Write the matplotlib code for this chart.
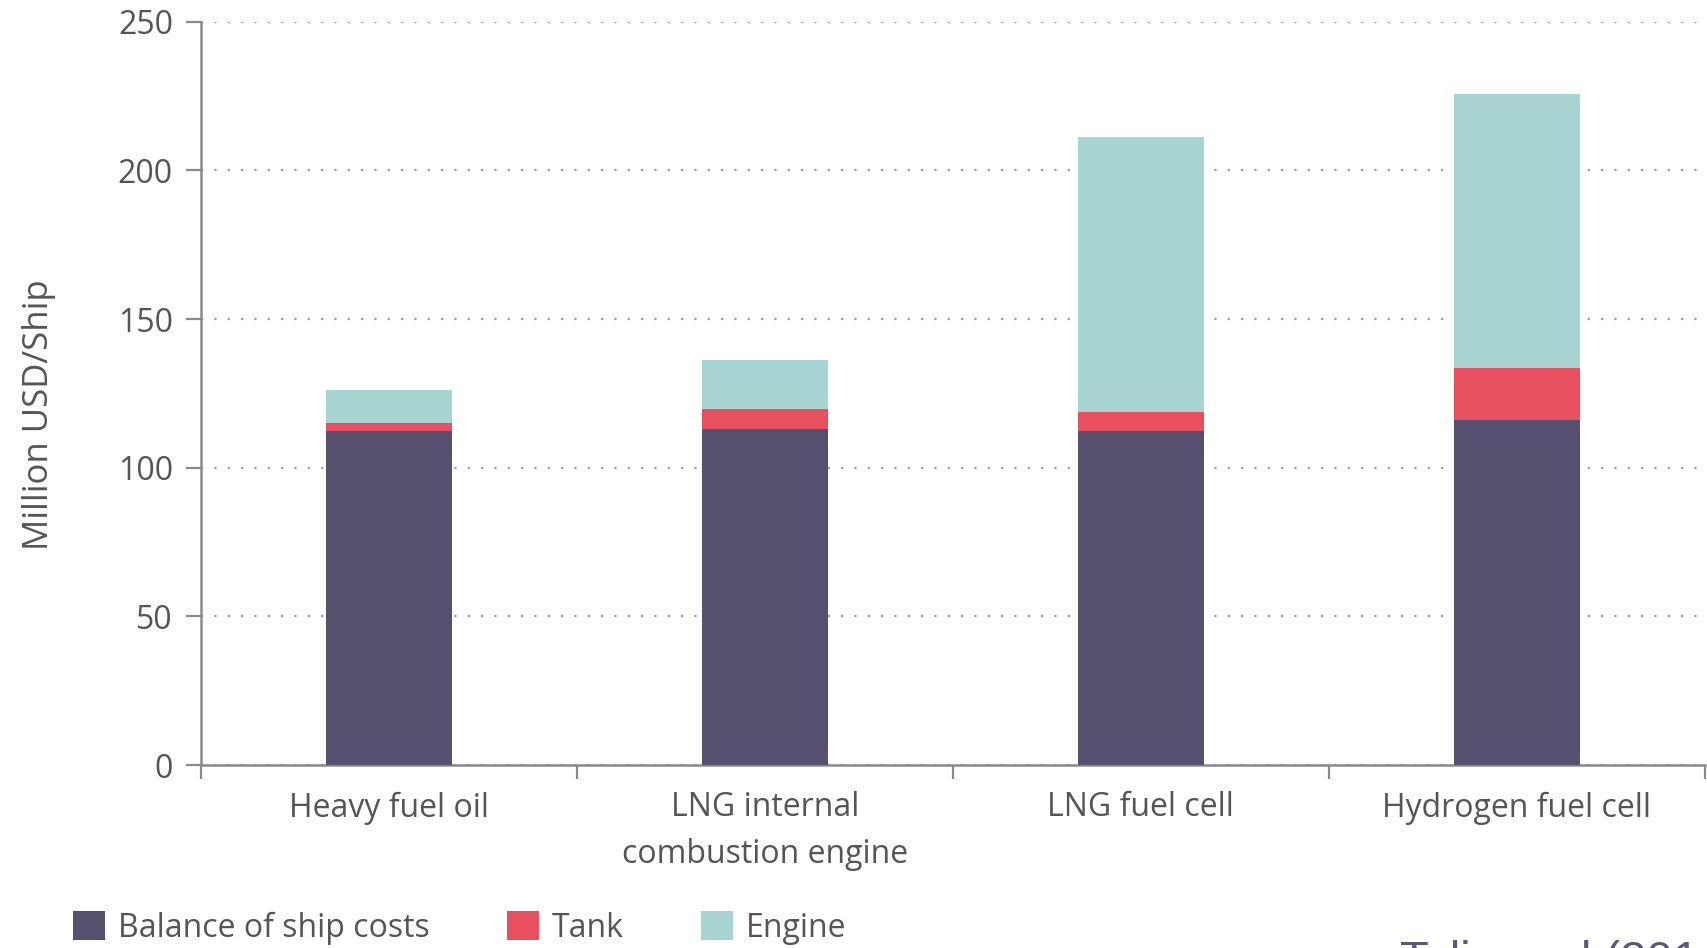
import matplotlib
matplotlib.use("Agg")
import matplotlib.pyplot as plt
from matplotlib.patches import Patch
import numpy as np

categories = ["Heavy fuel oil", "LNG internal\ncombustion engine", "LNG fuel cell", "Hydrogen fuel cell"]
balance = [112.3, 113.1, 112.3, 115.9]
tank = [2.8, 6.5, 6.4, 17.7]
engine = [11.2, 16.8, 92.6, 92.0]
series_names = ["Balance of ship costs", "Tank", "Engine"]
yticks = [0, 50, 100, 150, 200, 250]
source_text = "Taljegard (2014)"

col_bal = "#56506e"
col_tank = "#e8505f"
col_eng = "#a8d5d1"
txt_col = "#555555"
axis_col = "#8a8a8a"

plt.rcParams["font.family"] = ["Open Sans", "DejaVu Sans"]

fig = plt.figure(figsize=(17.08, 9.48), dpi=100)
ax = fig.add_axes([0.1175, 0.193, 0.8807, 0.784])

x = np.arange(len(categories))
w = 0.335
b1 = np.array(balance)
b2 = b1 + np.array(tank)
ax.bar(x, balance, w, color=col_bal, zorder=3)
ax.bar(x, tank, w, bottom=b1, color=col_tank, zorder=3)
ax.bar(x, engine, w, bottom=b2, color=col_eng, zorder=3)

ax.set_xlim(-0.5, len(categories) - 0.5)
ax.set_ylim(0, 250)
ax.set_yticks(yticks)
ax.set_yticklabels([str(v) for v in yticks])

ax.set_xticks(x)
ax.set_xticklabels(categories, linespacing=1.55)
ax.set_xticks(np.arange(-0.5, len(categories), 1.0), minor=True)
ax.tick_params(axis="x", which="major", length=0, pad=19, labelsize=23, labelcolor=txt_col)
ax.tick_params(axis="x", which="minor", length=10, width=1.6, color=axis_col, direction="out")
ax.tick_params(axis="y", length=11, width=1.6, color=axis_col, pad=9, labelsize=23, labelcolor=txt_col)

for s in ["top", "right"]:
    ax.spines[s].set_visible(False)
for s in ["left", "bottom"]:
    ax.spines[s].set_color(axis_col)
    ax.spines[s].set_linewidth(1.8)

ax.yaxis.grid(True, color="#9a9a9a", linestyle=(0, (1, 5)), linewidth=1.6, zorder=0)
ax.set_axisbelow(True)

ax.set_ylabel("Million USD/Ship", fontsize=25, color=txt_col)
ax.yaxis.set_label_coords(-0.096, 0.472)

handles = [Patch(facecolor=c, edgecolor="none") for c in [col_bal, col_tank, col_eng]]
fig.legend(handles, series_names, loc="center left", bbox_to_anchor=(0.0427, 0.021),
           ncol=3, frameon=False, fontsize=23, labelcolor=txt_col,
           handlelength=1.0, handleheight=1.0, handletextpad=0.42,
           columnspacing=2.4, borderpad=0, borderaxespad=0)

fig.text(1400 / 1708, -0.027, source_text, fontsize=34, color="#5a5a78",
         family=["Liberation Sans", "DejaVu Sans"], ha="left", va="baseline")

fig.savefig("out.png", dpi=100)
